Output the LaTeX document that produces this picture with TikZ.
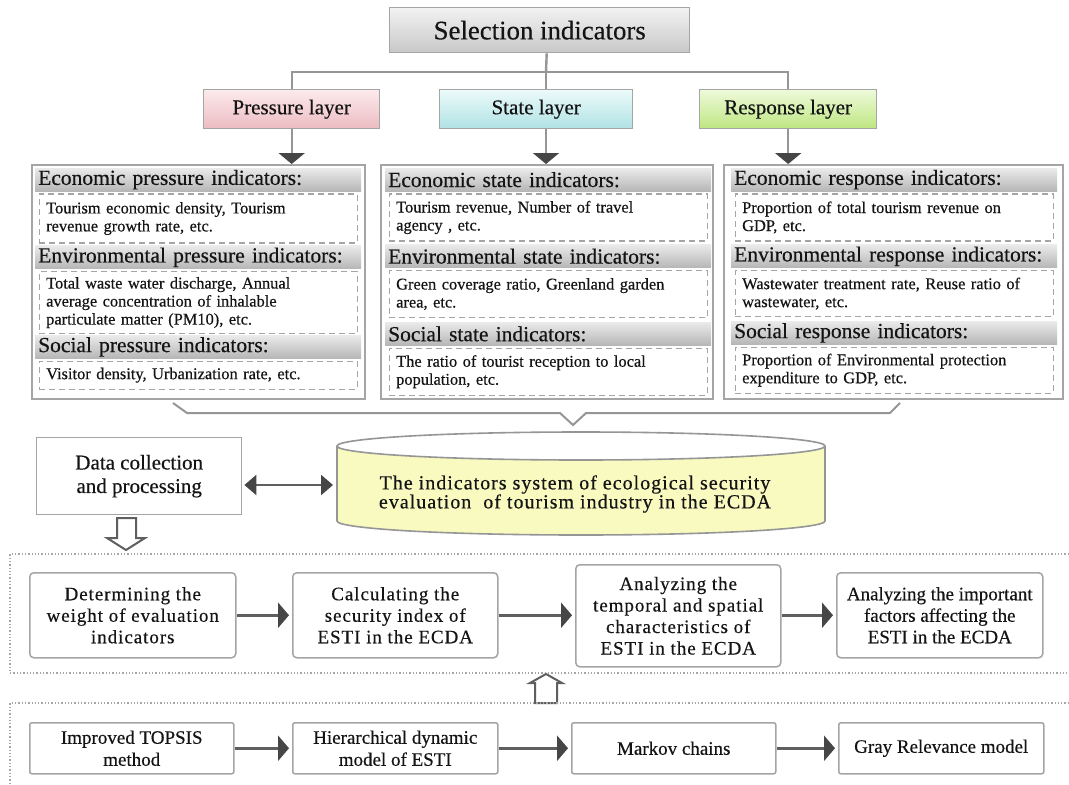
\documentclass[tikz,border=0pt]{standalone}
\usepackage{fontspec}
\setmainfont[FakeBold=0.4]{Liberation Serif}
\newfontfamily\widefont[LetterSpace=5,FakeBold=0.4]{Liberation Serif}
\usepackage{tikz}
\usetikzlibrary{arrows.meta,positioning,calc}
\definecolor{inkgray}{RGB}{20,20,20}
\definecolor{framegray}{RGB}{165,165,165}
\definecolor{linegray}{RGB}{150,150,150}
\definecolor{arrowgray}{RGB}{95,95,95}
\definecolor{tipgray}{RGB}{70,70,70}
\definecolor{seltop}{RGB}{242,242,242}
\definecolor{selbot}{RGB}{200,200,200}
\definecolor{pinktop}{RGB}{252,234,236}
\definecolor{pinkbot}{RGB}{236,188,194}
\definecolor{cyantop}{RGB}{236,250,250}
\definecolor{cyanbot}{RGB}{176,226,228}
\definecolor{greentop}{RGB}{238,250,218}
\definecolor{greenbot}{RGB}{190,230,130}
\definecolor{headtop}{RGB}{234,234,234}
\definecolor{headbot}{RGB}{182,182,182}
\definecolor{cylfill}{RGB}{248,250,192}
\tikzset{
  topbox/.style={
    draw=framegray,
    line width=1.4pt,
    anchor=north west,
    inner sep=0pt,
    align=center,
    text=inkgray
  },
  layerbox/.style={
    topbox,
    minimum height=39pt,
    font=\fontsize{21}{24}\selectfont
  },
  panel/.style={
    draw=framegray,
    line width=1.8pt,
    fill=white,
    anchor=north west,
    inner sep=0pt
  },
  headbar/.style={
    top color=headtop,
    bottom color=headbot,
    anchor=north west,
    inner xsep=3pt,
    inner ysep=0pt,
    minimum height=23pt,
    text width=320pt,
    align=left,
    text=inkgray,
    font=\fontsize{21.5}{23}\selectfont
  },
  itembox/.style={
    draw=framegray,
    dash pattern=on 6pt off 4pt,
    line width=1.2pt,
    inner xsep=7pt,
    inner ysep=0pt,
    text width=304pt,
    align=left,
    text=inkgray,
    font=\fontsize{16.4}{18}\selectfont
  },
  stepbox/.style={
    draw=framegray,
    line width=1.5pt,
    rounded corners=4pt,
    fill=white,
    anchor=north west,
    inner sep=0pt,
    align=center,
    text=inkgray,
    font=\widefont\fontsize{19}{21.5}\selectfont
  },
  methodbox/.style={
    stepbox,
    rounded corners=2pt,
    minimum height=51pt,
    font=\fontsize{19}{22}\selectfont
  },
  tree/.style={draw=linegray, line width=2.4pt},
  drop/.style={tree, -{Triangle[width=26pt,length=11pt,color=tipgray]}},
  flow/.style={draw=arrowgray, line width=3pt, shorten >=3pt,
    -{Triangle[width=25pt,length=11pt,color=tipgray]}},
  twoway/.style={draw=arrowgray, line width=2.4pt, shorten <=2pt, shorten >=4pt,
    {Triangle[width=20pt,length=12pt,color=tipgray]}-{Triangle[width=20pt,length=12pt,color=tipgray]}},
  hollow/.style={draw=arrowgray, line width=2pt, fill=white, line join=miter},
  dotframe/.style={draw=gray!70, line width=1.3pt, dotted},
  brace/.style={draw=linegray, line width=2pt}
}

\begin{document}
\begin{tikzpicture}[x=1pt, y=-1pt]
  \path[use as bounding box, fill=white] (0,0) rectangle (1069,785);

  % selection and the three layers
  \node[topbox, top color=seltop, bottom color=selbot, minimum width=300pt, minimum height=45pt,
    font=\fontsize{26.8}{30}\selectfont] (sel) at (389,7) {Selection indicators};
  \node[layerbox, top color=pinktop, bottom color=pinkbot, minimum width=176pt] (pres) at (203,89) {Pressure layer};
  \node[layerbox, top color=cyantop, bottom color=cyanbot, minimum width=193pt] (state) at (439,89) {State layer};
  \node[layerbox, top color=greentop, bottom color=greenbot, minimum width=177pt] (resp) at (699,89) {Response layer};
  \coordinate (fork) at (546,72);
  \draw[tree] ([xshift=7pt]sel.south) -- (fork);
  \draw[tree] (pres.north) |- (fork) -| (resp.north);
  \draw[tree] (fork) -- (fork |- state.north);

  % indicator panels
  \node[panel, minimum width=333pt, minimum height=234pt] (ppan) at (31,164) {};
  \node[panel, minimum width=332pt, minimum height=234pt] (span) at (380,164) {};
  \node[panel, minimum width=339pt, minimum height=234pt] (rpan) at (723,164) {};
  \draw[drop] (pres.south) -- (pres.south |- ppan.north);
  \draw[drop] (fork |- state.south) -- (fork |- span.north);
  \draw[drop] (resp.south) -- (resp.south |- rpan.north);

  % pressure
  \node[headbar] (ph1) at (35,168) {Economic pressure indicators:};
  \node[itembox, minimum height=49pt, below=2pt of ph1] (pi1) {Tourism economic density, Tourism\\revenue growth rate, etc.};
  \node[headbar, below=2pt of pi1] (ph2) {Environmental pressure indicators:};
  \node[itembox, minimum height=62pt, below=2pt of ph2] (pi2) {Total waste water discharge, Annual\\average concentration of inhalable\\particulate matter (PM10), etc.};
  \node[headbar, below=1pt of pi2] (ph3) {Social pressure indicators:};
  \node[itembox, minimum height=28pt, below=2pt of ph3] (pi3) {Visitor density, Urbanization rate, etc.};

  % state
  \node[headbar] (sh1) at (385,168) {Economic state indicators:};
  \node[itembox, minimum height=47pt, below=2pt of sh1] (si1) {Tourism revenue, Number of travel\\agency , etc.};
  \node[headbar, below=3pt of si1] (sh2) {Environmental state indicators:};
  \node[itembox, minimum height=47pt, below=2pt of sh2] (si2) {Green coverage ratio, Greenland garden\\area, etc.};
  \node[headbar, below=4pt of si2] (sh3) {Social state indicators:};
  \node[itembox, minimum height=47pt, below=2pt of sh3] (si3) {The ratio of tourist reception to local\\population, etc.};

  % response
  \node[headbar] (rh1) at (731,168) {Economic response indicators:};
  \node[itembox, minimum height=47pt, below=2pt of rh1] (ri1) {Proportion of total tourism revenue on\\GDP, etc.};
  \node[headbar, below=3pt of ri1] (rh2) {Environmental response indicators:};
  \node[itembox, minimum height=46pt, below=2pt of rh2] (ri2) {Wastewater treatment rate, Reuse ratio of\\wastewater, etc.};
  \node[headbar, below=4pt of ri2] (rh3) {Social response indicators:};
  \node[itembox, minimum height=46pt, below=2pt of rh3] (ri3) {Proportion of Environmental protection\\expenditure to GDP, etc.};

  \draw[brace] (173,403) -- (187,413) -- (560,413) -- (573,425) -- (586,413) -- (890,413) -- (900,403);

  % data and the indicator store
  \node[topbox, fill=white, minimum width=205pt, minimum height=77pt,
    font=\fontsize{21}{23.5}\selectfont] (data) at (36,437) {Data collection\\and processing};
  \fill[cylfill] (337,446) -- (337,521) arc[start angle=180, end angle=0, x radius=244, y radius=14] -- (825,446) -- cycle;
  \draw[linegray, line width=1.6pt] (337,446) -- (337,521) arc[start angle=180, end angle=0, x radius=244, y radius=14] -- (825,446);
  \draw[linegray, line width=1.6pt, fill=white] (581,446) ellipse[x radius=244, y radius=14];
  \node[align=center, text=inkgray, font=\widefont\fontsize{20}{19}\selectfont] (cyl) at (575,494)
    {The indicators system of ecological security\\evaluation~ of tourism industry in the ECDA};
  \coordinate (cylW) at (337,485);
  \draw[twoway] (data.east |- cylW) -- (cylW);

  % hollow arrows and dotted frames
  \draw[hollow] (117,518) -- (117,538) -- (107,538) -- (126,550) -- (145,538) -- (136,538) -- (136,518) -- cycle;
  \draw[dotframe] (1069,554) -- (10,554) -- (10,673) -- (1069,673);
  \draw[hollow] (535,703) -- (535,683) -- (530,683) -- (546,674) -- (562,683) -- (557,683) -- (557,703) -- cycle;
  \draw[dotframe] (1069,703) -- (10,703) -- (10,785);

  % analysis steps
  \node[stepbox, minimum width=206pt, minimum height=85pt] (s1) at (29,572) {Determining the\\weight of evaluation\\indicators};
  \node[stepbox, minimum width=205pt, minimum height=85pt] (s2) at (292,572) {Calculating the\\security index of\\ESTI in the ECDA};
  \node[stepbox, minimum width=205pt, minimum height=102pt] (s3) at (575,564) {Analyzing the\\temporal and spatial\\characteristics of\\ESTI in the ECDA};
  \node[stepbox, minimum width=206pt, minimum height=85pt, font=\fontsize{19}{21.5}\selectfont] (s4) at (836,572) {Analyzing the important\\factors affecting the\\ESTI in the ECDA};
  \draw[flow] (s1.east) -- (s2.west);
  \draw[flow] (s2.east) -- (s2.east -| s3.west);
  \draw[flow] (s3.east |- s4.west) -- (s4.west);

  % methods
  \node[methodbox, minimum width=204pt] (m1) at (29,722) {Improved TOPSIS\\method};
  \node[methodbox, minimum width=205pt] (m2) at (292,722) {Hierarchical dynamic\\model of ESTI};
  \node[methodbox, minimum width=204pt] (m3) at (571,722) {Markov chains};
  \node[methodbox, minimum width=205pt] (m4) at (838,722) {Gray Relevance model};
  \draw[flow] (m1.east) -- (m2.west);
  \draw[flow] (m2.east) -- (m3.west);
  \draw[flow] (m3.east) -- (m4.west);
\end{tikzpicture}
\end{document}
